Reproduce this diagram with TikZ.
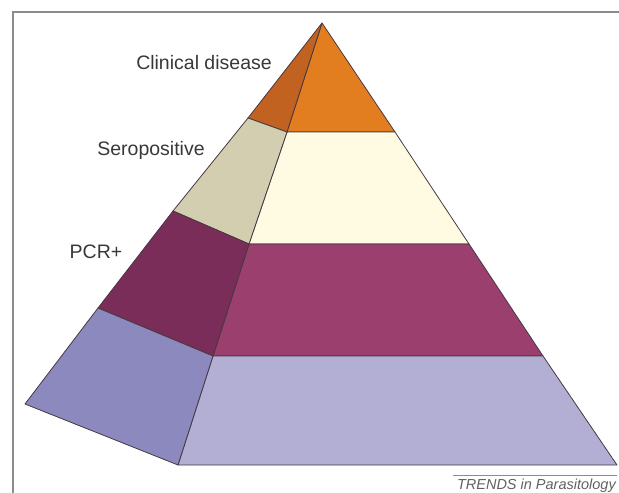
\documentclass[tikz,border=0pt]{standalone}
\usepackage{fontspec}
\setmainfont{Liberation Sans}
\usetikzlibrary{
    positioning,
}
\definecolor{orangefront}{RGB}{226,126,32}
\definecolor{orangeside}{RGB}{194,98,32}
\definecolor{creamfront}{RGB}{255,250,226}
\definecolor{creamside}{RGB}{211,206,176}
\definecolor{pcrfront}{RGB}{155,63,110}
\definecolor{pcrside}{RGB}{122,45,88}
\definecolor{lavfront}{RGB}{179,175,212}
\definecolor{lavside}{RGB}{139,137,189}
\definecolor{edgecol}{RGB}{72,56,66}
\definecolor{framecol}{RGB}{140,140,140}
\tikzset{
    x=1pt,
    y=-1pt,
    face/.style={draw=edgecol, line width=0.8pt, line join=round},
    level/.style={font=\fontsize{19.5}{22}\selectfont, text=black!78, inner sep=0pt},
    frame/.style={draw=framecol, line width=2pt},
    credit/.style={font=\fontsize{14.5}{16}\selectfont\itshape, text=black!62, inner sep=0pt},
}

\begin{document}
\begin{tikzpicture}
    \useasboundingbox (0,0) rectangle (619,493);

    \coordinate (apex) at (322,23);

    \coordinate (f1) at (287,132);
    \coordinate (f2) at (249,244);
    \coordinate (f3) at (213,356);
    \coordinate (f4) at (178,465);

    \coordinate (r1) at (395,132);
    \coordinate (r2) at (469,244);
    \coordinate (r3) at (543,356);
    \coordinate (r4) at (617,465);

    \coordinate (s1) at (248,118);
    \coordinate (s2) at (173,211);
    \coordinate (s3) at (98,308);
    \coordinate (s4) at (25,404);

    % ===== FRONT FACE =====
    \filldraw[face, fill=orangefront] (apex) -- (r1) -- (f1) -- cycle;
    \filldraw[face, fill=creamfront] (f1) -- (r1) -- (r2) -- (f2) -- cycle;
    \filldraw[face, fill=pcrfront] (f2) -- (r2) -- (r3) -- (f3) -- cycle;
    \filldraw[face, fill=lavfront] (f3) -- (r3) -- (r4) -- (f4) -- cycle;

    % ===== SIDE FACE =====
    \filldraw[face, fill=orangeside] (apex) -- (f1) -- (s1) -- cycle;
    \filldraw[face, fill=creamside] (s1) -- (f1) -- (f2) -- (s2) -- cycle;
    \filldraw[face, fill=pcrside] (s2) -- (f2) -- (f3) -- (s3) -- cycle;
    \filldraw[face, fill=lavside] (s3) -- (f3) -- (f4) -- (s4) -- cycle;

    % ===== LABELS =====
    \node[level] (clinical) at (204,63) {Clinical disease};
    \node[level] (seropos) at (151,150) {Seropositive};
    \node[level] (pcr) at (96,252) {PCR+};

    % ===== FRAME =====
    \coordinate (ftl) at (13,12);
    \coordinate (ftr) at (619,12);
    \coordinate (fbl) at (13,493);
    \draw[frame] (ftr) -- (ftl) -- (fbl);

    \coordinate (rulel) at (453,475);
    \coordinate (ruler) at (617,475);
    \draw[draw=framecol, line width=0.8pt] (rulel) -- (ruler);
    \node[credit, anchor=east] (trends) at (616,486) {TRENDS in Parasitology};

\end{tikzpicture}
\end{document}
